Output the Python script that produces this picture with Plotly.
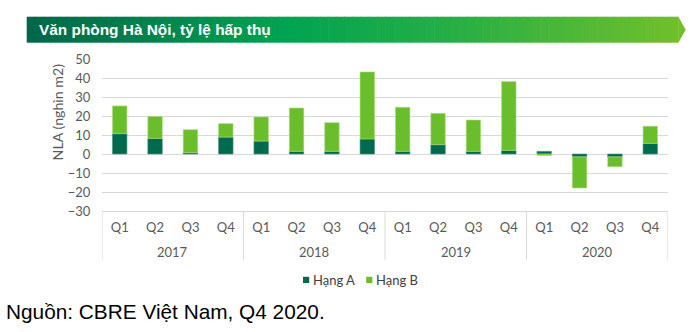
import plotly.graph_objects as go

# ---- data ----
years = ["2017"] * 4 + ["2018"] * 4 + ["2019"] * 4 + ["2020"] * 4
quarters = ["Q1", "Q2", "Q3", "Q4"] * 4
hang_a = [10.7, 8.2, 0.7, 8.9, 6.8, 1.4, 1.4, 7.9, 1.4, 4.9, 1.4, 1.9, 1.4, -1.5, -1.5, 5.6]
hang_b = [14.6, 11.6, 12.1, 7.1, 12.7, 22.8, 15.1, 35.3, 23.2, 16.5, 16.5, 36.2, -0.8, -16.4, -5.2, 9.0]
y_ticks = [50, 40, 30, 20, 10, 0, -10, -20, -30]
series_names = ["Hạng A", "Hạng B"]

title_text = "Văn phòng Hà Nội, tỷ lệ hấp thụ"
y_title = "NLA (nghìn m2)"
source_text = "Nguồn: CBRE Việt Nam, Q4 2020."

# ---- geometry ----
W, H = 697, 332
PL, PR, PT, PB = 102.3, 668.3, 59.3, 211.3
pw, ph = PR - PL, PB - PT


def px(x):
    return (x - PL) / pw


def py(y):
    return (PB - y) / ph


DARK = "#006A4E"
LIGHT = "#6BBE2B"
GRID = "#D9D9D9"
TXT = "#595959"
FONT = "Lato"
colors = [DARK, LIGHT]

cats = [y + " " + q for y, q in zip(years, quarters)]

fig = go.Figure()
fig.add_trace(go.Bar(x=cats, y=hang_a, name=series_names[0],
                     marker=dict(color=DARK, line=dict(color="#4f9480", width=0.6))))
fig.add_trace(go.Bar(x=cats, y=hang_b, name=series_names[1],
                     marker=dict(color=LIGHT, line=dict(color="#b3dd8a", width=0.6))))

# ---- banner gradient ----
stops = [(0.0, (0, 103, 74)), (0.4, (0, 164, 81)), (0.65, (38, 174, 70)), (1.0, (111, 191, 43))]


def grad(t):
    for (t0, c0), (t1, c1) in zip(stops[:-1], stops[1:]):
        if t0 <= t <= t1:
            f = (t - t0) / (t1 - t0)
            return "rgb(%d,%d,%d)" % tuple(round(a + (b - a) * f) for a, b in zip(c0, c1))
    return "rgb(%d,%d,%d)" % stops[-1][1]


shapes = []
BX0, BX1, BTIP, BY0, BY1 = 27, 679, 686, 17, 43
n = 80
for i in range(n):
    x0 = BX0 + (BX1 - BX0) * i / n
    x1 = BX0 + (BX1 - BX0) * (i + 1) / n + 0.6
    shapes.append(dict(type="rect", xref="paper", yref="paper",
                       x0=px(x0), x1=px(min(x1, BX1)), y0=py(BY1), y1=py(BY0),
                       fillcolor=grad(i / (n - 1)), line=dict(width=0), layer="below"))
shapes.append(dict(type="path", xref="paper", yref="paper",
                   path="M %f %f L %f %f L %f %f Z" % (px(BX1 - 0.3), py(BY0), px(BTIP), py((BY0 + BY1) / 2),
                                                       px(BX1 - 0.3), py(BY1)),
                   fillcolor=grad(1.0), line=dict(width=0), layer="below"))

# ---- year groups: dividers and labels ----
annotations = []
groups = []
for i, yv in enumerate(years):
    if not groups or groups[-1][0] != yv:
        groups.append([yv, i, i])
    else:
        groups[-1][2] = i
for yv, s, e in groups:
    shapes.append(dict(type="line", xref="x", yref="paper", x0=s - 0.5, x1=s - 0.5,
                       y0=0, y1=py(260), line=dict(color=GRID, width=1)))
    annotations.append(dict(text=yv, xref="x", yref="paper", x=(s + e) / 2, y=py(252.5),
                            xanchor="center", yanchor="middle", showarrow=False,
                            font=dict(family=FONT, size=13, color=TXT)))
last_end = groups[-1][2]
shapes.append(dict(type="line", xref="x", yref="paper", x0=last_end + 0.5, x1=last_end + 0.5,
                   y0=0, y1=py(260), line=dict(color=GRID, width=1)))

# ---- legend (squares + text) ----
legend_items = [(303.3, 311), (366.5, 374)]
for (mx, tx), name, col in zip(legend_items, series_names, colors):
    shapes.append(dict(type="rect", xref="paper", yref="paper",
                       x0=px(mx), x1=px(mx + 6.2), y0=py(283.3), y1=py(277.1),
                       fillcolor=col, line=dict(width=0)))
    annotations.append(dict(text=name, xref="paper", yref="paper", x=px(tx), y=py(280.5),
                            xanchor="left", yanchor="middle", showarrow=False,
                            font=dict(family=FONT, size=13, color="#404040")))

annotations += [
    dict(text="<b>" + title_text + "</b>", xref="paper", yref="paper", x=px(37), y=py(29.5),
         xanchor="left", yanchor="middle", showarrow=False,
         font=dict(family="Liberation Sans", size=15.4, color="white")),
    dict(text=y_title, xref="paper", yref="paper", x=px(58), y=py(112), textangle=-90,
         xanchor="center", yanchor="middle", showarrow=False,
         font=dict(family=FONT, size=14.2, color=TXT)),
    dict(text=source_text, xref="paper", yref="paper", x=px(4), y=py(311.5),
         xanchor="left", yanchor="middle", showarrow=False,
         font=dict(family="Liberation Sans", size=20.8, color="black")),
]

fig.update_layout(
    width=W, height=H,
    margin=dict(l=PL, r=W - PR, t=PT, b=H - PB, pad=0),
    paper_bgcolor="white", plot_bgcolor="white",
    barmode="relative", bargap=0.59,
    font=dict(family=FONT, size=13, color=TXT),
    showlegend=False,
    shapes=shapes,
    annotations=annotations,
)
fig.update_yaxes(range=[-30, 50], tickvals=y_ticks, showgrid=True, gridcolor=GRID, gridwidth=1,
                 zeroline=True, zerolinecolor=GRID, zerolinewidth=1,
                 ticks="outside", ticklen=8, tickcolor="rgba(0,0,0,0)",
                 tickfont=dict(family=FONT, size=13, color=TXT), showline=False)
fig.update_xaxes(type="category", range=[-0.5, len(cats) - 0.5],
                 tickvals=cats, ticktext=quarters,
                 showline=True, linecolor=GRID, linewidth=1,
                 ticks="outside", ticklen=4, tickcolor="rgba(0,0,0,0)", tickangle=0,
                 tickfont=dict(family=FONT, size=13, color=TXT), showgrid=False)

fig.write_html("out.html")
